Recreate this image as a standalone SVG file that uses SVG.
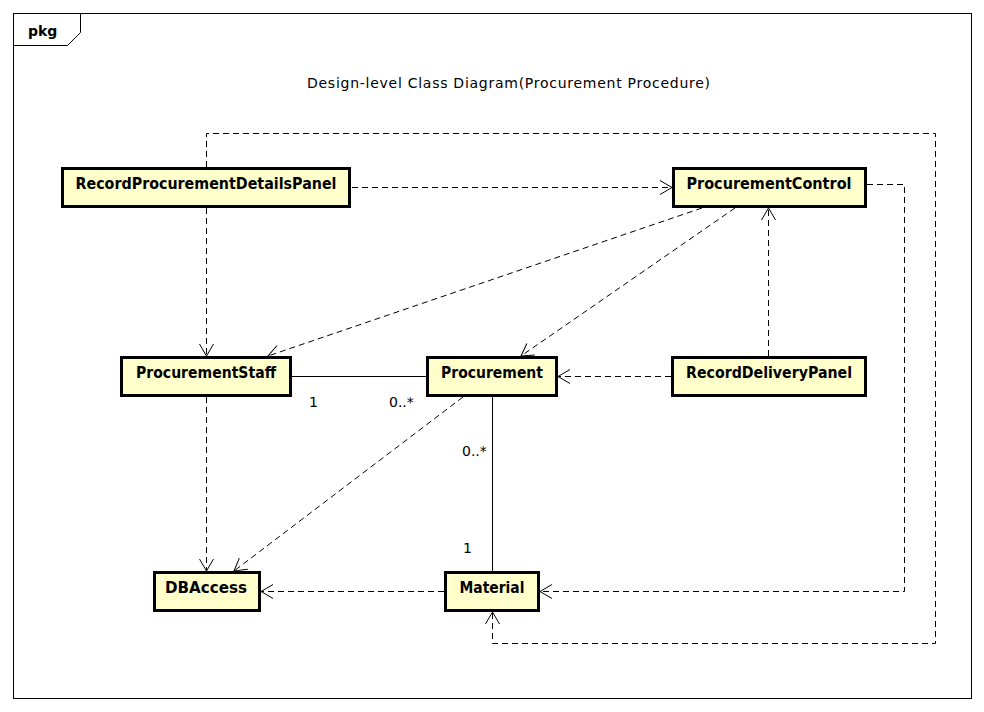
<svg xmlns="http://www.w3.org/2000/svg" width="984" height="712" viewBox="0 0 984 712">
<style>
.frame{fill:#fff;stroke:#000;stroke-width:1}
.box{fill:#FFFFCC;stroke:#000;stroke-width:3}
.lbl{font-family:"DejaVu Sans",sans-serif;font-weight:bold;font-size:15px;fill:#000;text-anchor:middle}
.txt{font-family:"DejaVu Sans",sans-serif;font-size:14px;fill:#000}
.dep{fill:none;stroke:#000;stroke-width:1;stroke-dasharray:6 4;marker-end:url(#arr)}
.assoc{fill:none;stroke:#000;stroke-width:1}
</style>
<defs>
<marker id="arr" markerUnits="userSpaceOnUse" markerWidth="16" markerHeight="18" refX="13" refY="9" orient="auto">
<path d="M1,2 L13,9 L1,16" fill="none" stroke="#000" stroke-width="1" stroke-dasharray="none"/>
</marker>
</defs>
<rect width="984" height="712" fill="#fff"/>
<g id="frame">
<rect class="frame" x="13.5" y="13.5" width="958" height="685"/>
<path d="M13.5,45.5 H67.5 L80.5,32.5 V13.5" fill="none" stroke="#000" stroke-width="1"/>
<text x="28" y="36" font-family="DejaVu Sans,sans-serif" font-weight="bold" font-size="14">pkg</text>
<text class="txt" x="508.5" y="88" text-anchor="middle" textLength="403">Design-level Class Diagram(Procurement Procedure)</text>
</g>
<g id="connectors">
<path class="dep" d="M352,187.5 H672"/>
<path class="dep" d="M206.5,208 V356"/>
<path class="dep" d="M206.5,167 V133.5 H935.5 V643.5 H492.5 V612"/>
<path class="dep" d="M867,184.5 H904.5 V591.5 H540"/>
<path class="dep" d="M702,208 L268,356"/>
<path class="dep" d="M735,208 L521,356"/>
<path class="dep" d="M768.5,356 V208"/>
<path class="dep" d="M671,376.5 H558"/>
<path class="assoc" d="M292,376.5 H426"/>
<path class="assoc" d="M492.5,397 V571"/>
<path class="dep" d="M463,397 L234,571"/>
<path class="dep" d="M206.5,397 V571"/>
<path class="dep" d="M444,591.5 H261"/>
<text class="txt" x="309" y="407">1</text>
<text class="txt" x="389" y="407">0..*</text>
<text class="txt" x="462" y="456">0..*</text>
<text class="txt" x="463" y="553">1</text>
</g>
<g id="RecordProcurementDetailsPanel">
<rect class="box" x="62.5" y="168.5" width="287" height="38"/>
<text class="lbl" x="206" y="189" textLength="261" lengthAdjust="spacingAndGlyphs">RecordProcurementDetailsPanel</text>
</g>
<g id="ProcurementControl">
<rect class="box" x="673.5" y="168.5" width="192" height="38"/>
<text class="lbl" x="769" y="189" textLength="165" lengthAdjust="spacingAndGlyphs">ProcurementControl</text>
</g>
<g id="ProcurementStaff">
<rect class="box" x="121.5" y="357.5" width="169" height="38"/>
<text class="lbl" x="206" y="378" textLength="140" lengthAdjust="spacingAndGlyphs">ProcurementStaff</text>
</g>
<g id="Procurement">
<rect class="box" x="427.5" y="357.5" width="129" height="38"/>
<text class="lbl" x="492" y="378" textLength="102" lengthAdjust="spacingAndGlyphs">Procurement</text>
</g>
<g id="RecordDeliveryPanel">
<rect class="box" x="672.5" y="357.5" width="193" height="38"/>
<text class="lbl" x="769" y="378" textLength="166" lengthAdjust="spacingAndGlyphs">RecordDeliveryPanel</text>
</g>
<g id="DBAccess">
<rect class="box" x="154.5" y="572.5" width="105" height="38"/>
<text class="lbl" x="206" y="593" textLength="82" lengthAdjust="spacingAndGlyphs">DBAccess</text>
</g>
<g id="Material">
<rect class="box" x="445.5" y="572.5" width="93" height="38"/>
<text class="lbl" x="492" y="593" textLength="65" lengthAdjust="spacingAndGlyphs">Material</text>
</g>
</svg>
